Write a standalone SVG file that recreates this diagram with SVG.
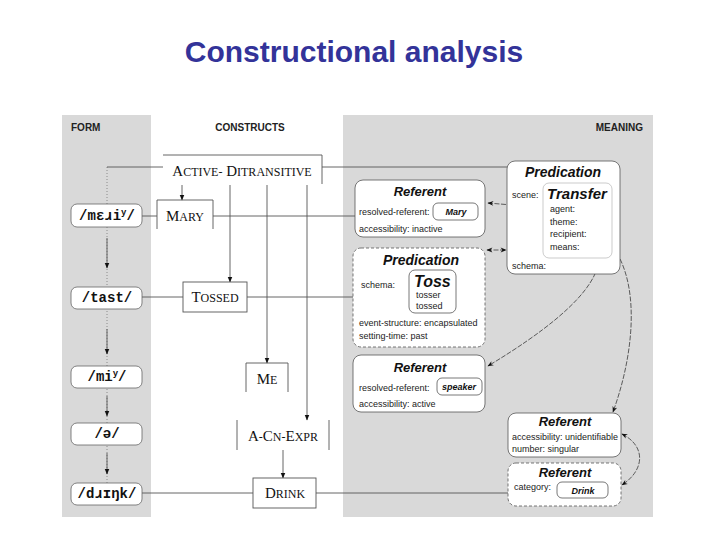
<svg xmlns="http://www.w3.org/2000/svg" width="720" height="540" viewBox="0 0 720 540">
<defs>
<marker id="ah" viewBox="0 0 10 10" refX="9" refY="5" markerWidth="6" markerHeight="6" orient="auto-start-reverse" markerUnits="userSpaceOnUse"><path d="M0,1 L10,5 L0,9 z" fill="#111"/></marker>
<marker id="sh" viewBox="0 0 10 10" refX="9" refY="5" markerWidth="7" markerHeight="6" orient="auto-start-reverse" markerUnits="userSpaceOnUse"><path d="M0,1 L10,5 L0,9 L3,5 z" fill="#111"/></marker>
<style>
.hdr{font-family:"Liberation Sans",Arial,sans-serif;font-weight:bold;font-size:10px;fill:#222}
.form rect{fill:#fff;stroke:#666;stroke-width:0.8}
.form text{font-family:"Liberation Mono","DejaVu Sans Mono",monospace;font-weight:bold;font-size:14px;fill:#111;text-anchor:middle}
.cx{font-family:"Liberation Serif","Times New Roman",serif;font-size:15px;fill:#111;text-anchor:middle}
.cx .s{font-size:12px}
.cbox{fill:#fff;stroke:#555;stroke-width:0.9}
.cline{fill:none;stroke:#555;stroke-width:0.9}
.mbox{fill:#fff;stroke:#555;stroke-width:0.8}
.dash{stroke-dasharray:3,2}
.ibox{fill:#fff;stroke:#555;stroke-width:0.8}
.tt{font-family:"Liberation Sans",Arial,sans-serif;font-weight:bold;font-style:italic;fill:#111;text-anchor:middle}
.tl{font-family:"Liberation Sans",Arial,sans-serif;font-weight:bold;font-style:italic;fill:#111;text-anchor:start}
.ft{font-family:"Liberation Sans",Arial,sans-serif;font-size:9px;fill:#222}
.conn{fill:none;stroke:#555;stroke-width:0.9}
.dot{fill:none;stroke:#777;stroke-width:0.8;stroke-dasharray:1,2}
.mc{fill:none;stroke:#222;stroke-width:0.7;stroke-dasharray:5,1.5}
</style>
</defs>
<rect x="0" y="0" width="720" height="540" fill="#fff"/>
<text x="354" y="62" text-anchor="middle" font-family="Liberation Sans,Arial,sans-serif" font-weight="bold" font-size="30" fill="#333399">Constructional analysis</text>
<g id="panels">
<rect x="62" y="115" width="89" height="402" fill="#d9d9d9"/>
<rect x="343" y="115" width="310" height="402" fill="#d9d9d9"/>
<text class="hdr" x="71" y="131">FORM</text>
<text class="hdr" x="250" y="131" text-anchor="middle">CONSTRUCTS</text>
<text class="hdr" x="643" y="131" text-anchor="end">MEANING</text>
</g>
<g id="connectors">
<line class="dot" x1="107" y1="167" x2="107" y2="483"/>
<line class="conn" x1="107" y1="238" x2="107" y2="268" marker-end="url(#ah)"/>
<line class="conn" x1="107" y1="329" x2="107" y2="354" marker-end="url(#ah)"/>
<line class="conn" x1="107" y1="396" x2="107" y2="416" marker-end="url(#ah)"/>
<line class="conn" x1="107" y1="453" x2="107" y2="474" marker-end="url(#ah)"/>
<line class="conn" x1="107" y1="167" x2="163" y2="167"/>
<line class="conn" x1="322" y1="167" x2="507" y2="167"/>
<line class="conn" x1="142" y1="216" x2="157" y2="216"/>
<line class="conn" x1="213" y1="216" x2="355" y2="216"/>
<line class="conn" x1="142" y1="297" x2="183" y2="297"/>
<line class="conn" x1="247" y1="297" x2="353" y2="297"/>
<line class="conn" x1="142" y1="493" x2="253" y2="493"/>
<line class="conn" x1="316" y1="493" x2="557" y2="493"/>
<line class="conn" x1="182" y1="185" x2="182" y2="200" marker-end="url(#ah)"/>
<line class="conn" x1="230" y1="185" x2="230" y2="282" marker-end="url(#ah)"/>
<line class="conn" x1="267" y1="185" x2="267" y2="363" marker-end="url(#ah)"/>
<line class="conn" x1="307" y1="185" x2="307" y2="420" marker-end="url(#ah)"/>
<line class="conn" x1="283" y1="450" x2="283" y2="478" marker-end="url(#ah)"/>
<path class="mc" d="M488,203 L548,208" marker-start="url(#sh)" marker-end="url(#sh)"/>
<path class="mc" d="M487,250 L506,250" marker-start="url(#sh)" marker-end="url(#sh)"/>
<path class="mc" d="M580,249 C592,254 590,265 576,266 L552,267" marker-start="url(#sh)" marker-end="url(#sh)"/>
<path class="mc" d="M583,223 L618,255 C640,295 632,360 613,412" marker-start="url(#sh)" marker-end="url(#sh)"/>
<path class="mc" d="M592,236 C608,258 606,295 488,366" marker-start="url(#sh)" marker-end="url(#sh)"/>
<path class="mc" d="M622,434 C646,446 645,470 622,485" marker-start="url(#sh)" marker-end="url(#sh)"/>
</g>
<g id="form-meri" class="form"><rect x="71" y="204" width="71" height="23" rx="6"/><text x="107" y="220">/mɛɹi<tspan font-size="9" dy="-5">y</tspan><tspan dy="5">/</tspan></text></g>
<g id="form-tast" class="form"><rect x="71" y="287" width="71" height="22" rx="6"/><text x="107" y="302">/tast/</text></g>
<g id="form-mi" class="form"><rect x="71" y="366" width="71" height="22" rx="6"/><text x="107" y="381">/mi<tspan font-size="9" dy="-5">y</tspan><tspan dy="5">/</tspan></text></g>
<g id="form-a" class="form"><rect x="71" y="423" width="71" height="22" rx="6"/><text x="107" y="438">/ə/</text></g>
<g id="form-drink" class="form"><rect x="71" y="483" width="71" height="22" rx="6"/><text x="107" y="498">/dɹɪŋk/</text></g>
<g id="c-active-ditransitive"><path class="cline" d="M163,155 L322,155 L322,184"/><text class="cx" x="242" y="176">A<tspan class="s">CTIVE-</tspan> D<tspan class="s">ITRANSITIVE</tspan></text></g>
<g id="c-mary"><path class="cline" d="M157,229 L157,200 L213,200 L213,229"/><text class="cx" x="185" y="221">M<tspan class="s">ARY</tspan></text></g>
<g id="c-tossed"><rect class="cbox" x="183" y="282" width="64" height="30"/><text class="cx" x="215" y="302">T<tspan class="s">OSSED</tspan></text></g>
<g id="c-me"><path class="cline" d="M246,392 L246,363 L288,363 L288,392"/><text class="cx" x="267" y="384">M<tspan class="s">E</tspan></text></g>
<g id="c-a-cn-expr"><path class="cline" d="M237,420 L237,450 M329,420 L329,450"/><text class="cx" x="283" y="441">A<tspan class="s">-</tspan>C<tspan class="s">N-</tspan>E<tspan class="s">XPR</tspan></text></g>
<g id="c-drink"><rect class="cbox" x="253" y="478" width="63" height="30"/><text class="cx" x="285" y="498">D<tspan class="s">RINK</tspan></text></g>
<g id="m-predication-transfer">
<rect class="mbox" x="507" y="161" width="113" height="113" rx="8"/>
<text class="tt" x="563" y="177" font-size="14">Predication</text>
<rect x="543" y="183" width="69" height="75" rx="6" fill="#fff" stroke="#aaa" stroke-width="0.6"/>
<text class="tt" x="577" y="199" font-size="15">Transfer</text>
<text class="ft" x="512" y="198">scene:</text>
<text class="ft" x="550" y="212">agent:</text>
<text class="ft" x="550" y="225">theme:</text>
<text class="ft" x="550" y="237">recipient:</text>
<text class="ft" x="550" y="250">means:</text>
<text class="ft" x="512" y="269">schema:</text>
</g>
<g id="m-referent-mary">
<rect class="mbox" x="355" y="180" width="130" height="57" rx="8"/>
<text class="tt" x="420" y="196" font-size="13">Referent</text>
<text class="ft" x="359" y="215">resolved-referent:</text>
<rect class="ibox" x="433" y="203" width="45" height="17" rx="5"/>
<text class="tt" x="456" y="215" font-size="9">Mary</text>
<text class="ft" x="359" y="232">accessibility:  inactive</text>
</g>
<g id="m-predication-toss">
<rect class="mbox dash" x="353" y="248" width="132" height="99" rx="8"/>
<text class="tt" x="421" y="265" font-size="14">Predication</text>
<text class="ft" x="361" y="288">schema:</text>
<rect class="ibox" x="409" y="270" width="47" height="43" rx="6"/>
<text class="tl" x="414" y="287" font-size="16">Toss</text>
<text class="ft" x="416" y="298">tosser</text>
<text class="ft" x="416" y="309">tossed</text>
<text class="ft" x="359" y="326">event-structure:  encapsulated</text>
<text class="ft" x="359" y="339">setting-time:  past</text>
</g>
<g id="m-referent-speaker">
<rect class="mbox" x="353" y="355" width="132" height="57" rx="8"/>
<text class="tt" x="420" y="372" font-size="13">Referent</text>
<text class="ft" x="359" y="391">resolved-referent:</text>
<rect class="ibox" x="437" y="378" width="45" height="17" rx="5"/>
<text class="tt" x="459" y="390" font-size="9">speaker</text>
<text class="ft" x="359" y="407">accessibility:  active</text>
</g>
<g id="m-referent-unidentifiable">
<rect class="mbox" x="508" y="413" width="113" height="44" rx="8"/>
<text class="tt" x="565" y="426" font-size="13">Referent</text>
<text class="ft" x="512" y="440">accessibility:  unidentifiable</text>
<text class="ft" x="512" y="452">number:  singular</text>
</g>
<g id="m-referent-drink">
<rect class="mbox dash" x="508" y="463" width="113" height="43" rx="8"/>
<text class="tt" x="565" y="477" font-size="13">Referent</text>
<text class="ft" x="514" y="490">category:</text>
<rect class="ibox" x="557" y="482" width="51" height="16" rx="5"/>
<text class="tt" x="583" y="494" font-size="9">Drink</text>
</g>
</svg>
